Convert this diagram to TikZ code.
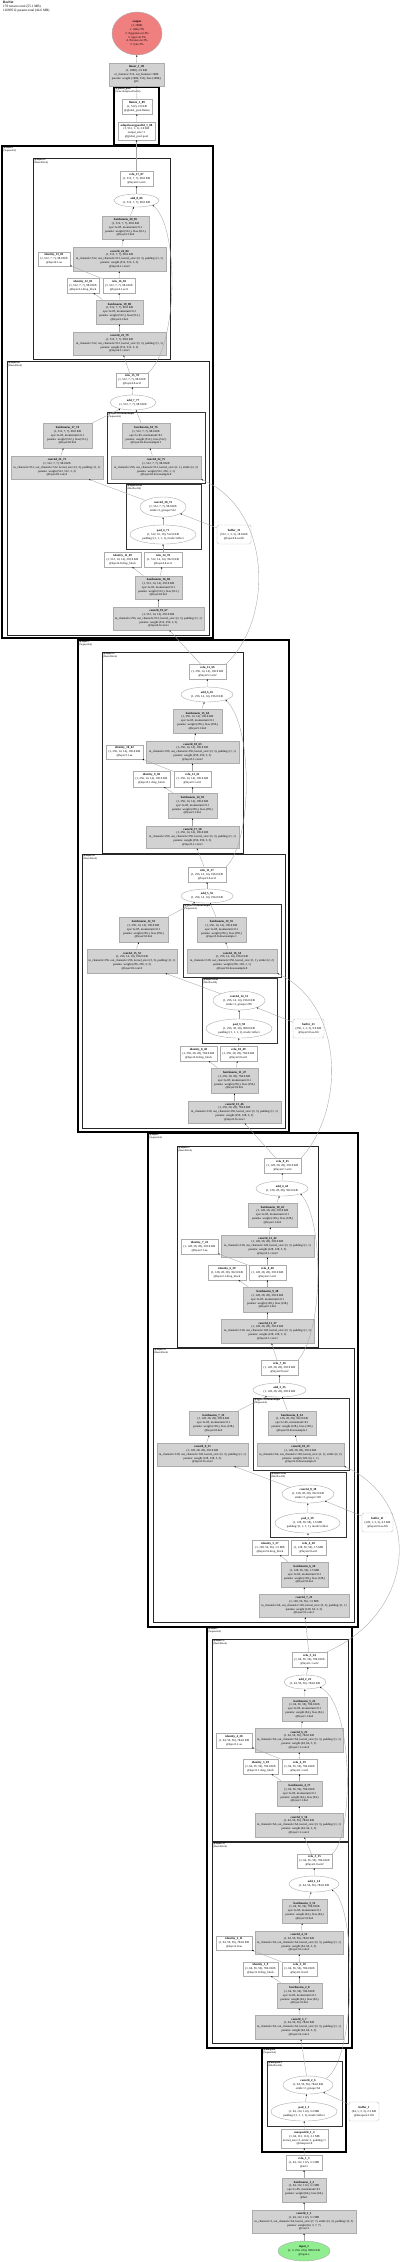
\documentclass[tikz,border=0pt]{standalone}
\usepackage{fontspec}
\setmainfont{Liberation Serif}
\usetikzlibrary{shapes.geometric,arrows.meta}
\definecolor{outred}{HTML}{F08080}
\definecolor{ingreen}{HTML}{90EE90}
\tikzset{
  every node/.style={font=\fontsize{3}{3.8}\selectfont, inner sep=0pt},
  gbox/.style={rectangle, draw=gray!65, line width=0.8pt, fill=gray!35},
  wbox/.style={rectangle, draw=gray!65, line width=0.4pt, fill=white},
  ell/.style={ellipse, draw=gray!65, line width=0.4pt, fill=white},
  buf/.style={rectangle, draw=gray!65, line width=0.4pt, rounded corners=2pt, dash pattern=on 1pt off 0.6pt, fill=white},
  outn/.style={ellipse, draw=gray!65, line width=0.4pt, fill=outred},
  inn/.style={ellipse, draw=gray!65, line width=0.4pt, fill=ingreen},
  ed/.style={draw=gray!70, line width=0.35pt, -{Stealth[length=1.6pt,width=1.3pt,color=black]}},
  clA/.style={draw=black, line width=1.1pt},
  clB/.style={draw=black!85, line width=0.9pt},
  clC/.style={draw=black!80, line width=0.6pt},
  cllab/.style={anchor=north west, align=left, font=\fontsize{2.6}{3}\selectfont},
}
\newcommand\NN[7]{\node[#1, minimum width={(#4-#3)*1pt}, minimum height={(#6-#5)*1pt}] (#2) at ({(#3+#4)/2},{-(#5+#6)/2}) {\makebox[0pt]{\begin{tabular}{@{}c@{}}#7\end{tabular}}};}
\newcommand\CL[8]{\draw[#1] (#3,-#5) rectangle (#4,-#6); \node[cllab] (#2) at ({#3+1.2},{-#5-0.8}) {\textbf{#7}\\#8};}
\begin{document}
\begin{tikzpicture}[x=1pt,y=1pt]
\useasboundingbox (0,0) rectangle (400,-2262);
\fill[white] (0,0) rectangle (400,-2262);
\node[anchor=north west, align=left, font=\fontsize{3.4}{4}\selectfont] (title) at (3,-1) {\textbf{ResNet}\\170 tensors total (55.1 MB)\\11689512 params total (44.6 MB)};

% clusters
\CL{clA}{gpL}{114}{159}{87}{145}{@global\_pool}{(SelectAdaptivePool2d)}
\CL{clA}{l4L}{2}{213}{146}{638}{@layer4}{(Sequential)}
\CL{clB}{l41L}{33}{170}{158}{359}{@layer4.1}{(BasicBlock)}
\CL{clB}{l40L}{7}{209}{361}{635}{@layer4.0}{(BasicBlock)}
\CL{clC}{ds4L}{107}{205}{412}{483}{@layer4.0.downsample}{(Sequential)}
\CL{clC}{aa4L}{126}{201}{484}{549}{@layer4.0.aa}{(BlurPool2d)}
\CL{clA}{l3L}{78}{289}{640}{1132}{@layer3}{(Sequential)}
\CL{clB}{l31L}{102}{243}{652}{853}{@layer3.1}{(BasicBlock)}
\CL{clB}{l30L}{82}{285}{854}{1128}{@layer3.0}{(BasicBlock)}
\CL{clC}{ds3L}{183}{281}{904}{977}{@layer3.0.downsample}{(Sequential)}
\CL{clC}{aa3L}{202}{277}{978}{1043}{@layer3.0.aa}{(BlurPool2d)}
\CL{clA}{l2L}{148}{358}{1133}{1627}{@layer2}{(Sequential)}
\CL{clB}{l21L}{177}{318}{1146}{1347}{@layer2.1}{(BasicBlock)}
\CL{clB}{l20L}{153}{354}{1348}{1622}{@layer2.0}{(BasicBlock)}
\CL{clC}{ds2L}{253}{349}{1398}{1470}{@layer2.0.downsample}{(Sequential)}
\CL{clC}{aa2L}{270}{346}{1472}{1537}{@layer2.0.aa}{(BlurPool2d)}
\CL{clA}{l1L}{207}{352}{1627}{2048}{@layer1}{(Sequential)}
\CL{clB}{l11L}{212}{348}{1639}{1841}{@layer1.1}{(BasicBlock)}
\CL{clB}{l10L}{212}{348}{1842}{2043}{@layer1.0}{(BasicBlock)}
\CL{clA}{mpL}{262}{346}{2048}{2152}{@maxpool}{(Sequential)}
\CL{clC}{mp1L}{267}{342}{2061}{2126}{@maxpool.1}{(BlurPool2d)}

% top
\NN{outn}{out}{112}{162}{12}{55}{\textbf{output}\\(1, 1000)\\1. tabby 9\%\\2. Egyptian cat 4\%\\3. tiger cat 3\%\\4. Persian cat 3\%\\5. lynx 3\%}
\NN{gbox}{lin}{109}{164}{63}{86}{\textbf{linear\_1\_90}\\(1, 1000), 3.9 KB\\in\_features=512, out\_features=1000\\params: weight (1000, 512), bias (1000,)\\@fc}
\NN{wbox}{flat}{122}{152}{99}{114}{\textbf{flatten\_1\_89}\\(1, 512), 2.0 KB\\@global\_pool.flatten}
\NN{wbox}{aap}{118}{155}{122}{140}{\textbf{adaptiveavgpool2d\_1\_88}\\(1, 512, 1, 1), 2.0 KB\\output\_size=1\\@global\_pool.pool}

% layer4.1
\NN{wbox}{relu17}{120}{153}{171}{186}{\textbf{relu\_17\_87}\\(1, 512, 7, 7), 98.0 KB\\@layer4.1.act2}
\NN{ell}{add8}{114}{159}{194}{207}{\textbf{add\_8\_86}\\(1, 512, 7, 7), 98.0 KB}
\NN{gbox}{bn20}{102}{149}{216}{239}{\textbf{batchnorm\_20\_85}\\(1, 512, 7, 7), 98.0 KB\\eps=1e-05, momentum=0.1\\params: weight (512,), bias (512,)\\@layer4.1.bn2}
\NN{gbox}{cv24}{73}{166}{247}{271}{\textbf{conv2d\_24\_84}\\(1, 512, 7, 7), 98.0 KB\\in\_channels=512, out\_channels=512, kernel\_size=(3, 3), padding=(1, 1)\\params: weight (512, 512, 3, 3)\\@layer4.1.conv2}
\NN{wbox}{id13}{38}{70}{252}{266}{\textbf{identity\_13\_83}\\(1, 512, 7, 7), 98.0 KB\\@layer4.1.aa}
\NN{wbox}{id12}{67}{99}{278}{293}{\textbf{identity\_12\_81}\\(1, 512, 7, 7), 98.0 KB\\@layer4.1.drop\_block}
\NN{wbox}{relu16}{103}{135}{278}{293}{\textbf{relu\_16\_82}\\(1, 512, 7, 7), 98.0 KB\\@layer4.1.act1}
\NN{gbox}{bn19}{96}{143}{300}{324}{\textbf{batchnorm\_19\_80}\\(1, 512, 7, 7), 98.0 KB\\eps=1e-05, momentum=0.1\\params: weight (512,), bias (512,)\\@layer4.1.bn1}
\NN{gbox}{cv23}{73}{166}{332}{355}{\textbf{conv2d\_23\_79}\\(1, 512, 7, 7), 98.0 KB\\in\_channels=512, out\_channels=512, kernel\_size=(3, 3), padding=(1, 1)\\params: weight (512, 512, 3, 3)\\@layer4.1.conv1}
% layer4.0
\NN{wbox}{relu15}{116}{148}{373}{387}{\textbf{relu\_15\_78}\\(1, 512, 7, 7), 98.0 KB\\@layer4.0.act2}
\NN{ell}{add7}{110}{156}{395}{410}{\textbf{add\_7\_77}\\(1, 512, 7, 7), 98.0 KB}
\NN{gbox}{bn18}{122}{170}{423}{448}{\textbf{batchnorm\_18\_76}\\(1, 512, 7, 7), 98.0 KB\\eps=1e-05, momentum=0.1\\params: weight (512,), bias (512,)\\@layer4.0.downsample.1}
\NN{gbox}{cv22}{111}{201}{456}{479}{\textbf{conv2d\_22\_75}\\(1, 512, 7, 7), 98.0 KB\\in\_channels=256, out\_channels=512, kernel\_size=(1, 1), stride=(2, 2)\\params: weight (512, 256, 1, 1)\\@layer4.0.downsample.0}
\NN{gbox}{bn17}{43}{92}{423}{448}{\textbf{batchnorm\_17\_74}\\(1, 512, 7, 7), 98.0 KB\\eps=1e-05, momentum=0.1\\params: weight (512,), bias (512,)\\@layer4.0.bn2}
\NN{gbox}{cv21}{11}{103}{456}{479}{\textbf{conv2d\_21\_73}\\(1, 512, 7, 7), 98.0 KB\\in\_channels=512, out\_channels=512, kernel\_size=(3, 3), padding=(1, 1)\\params: weight (512, 512, 3, 3)\\@layer4.0.conv2}
\NN{ell}{cv20}{140}{186}{497}{517}{\textbf{conv2d\_20\_72}\\(1, 512, 7, 7), 98.0 KB\\stride=2, groups=512}
\NN{ell}{pad4}{130}{196}{525}{544}{\textbf{pad\_4\_71}\\(1, 512, 16, 16), 512.0 KB\\padding=(1, 1, 1, 1), mode=reflect}
\NN{buf}{buf31}{217}{251}{525}{544}{\textbf{buffer\_31}\\(512, 1, 3, 3), 18.0 KB\\@layer4.0.aa.filt}
\NN{wbox}{id11}{104}{141}{552}{567}{\textbf{identity\_11\_69}\\(1, 512, 14, 14), 392.0 KB\\@layer4.0.drop\_block}
\NN{wbox}{relu14}{144}{182}{552}{567}{\textbf{relu\_14\_70}\\(1, 512, 14, 14), 392.0 KB\\@layer4.0.act1}
\NN{gbox}{bn16}{135}{182}{576}{599}{\textbf{batchnorm\_16\_68}\\(1, 512, 14, 14), 392.0 KB\\eps=1e-05, momentum=0.1\\params: weight (512,), bias (512,)\\@layer4.0.bn1}
\NN{gbox}{cv19}{113}{204}{607}{630}{\textbf{conv2d\_19\_67}\\(1, 512, 14, 14), 392.0 KB\\in\_channels=256, out\_channels=512, kernel\_size=(3, 3), padding=(1, 1)\\params: weight (512, 256, 3, 3)\\@layer4.0.conv1}

% layer3.1
\NN{wbox}{relu13}{189}{226}{664}{679}{\textbf{relu\_13\_66}\\(1, 256, 14, 14), 196.0 KB\\@layer3.1.act2}
\NN{ell}{add6}{181}{233}{687}{702}{\textbf{add\_6\_65}\\(1, 256, 14, 14), 196.0 KB}
\NN{gbox}{bn15}{173}{222}{709}{733}{\textbf{batchnorm\_15\_64}\\(1, 256, 14, 14), 196.0 KB\\eps=1e-05, momentum=0.1\\params: weight (256,), bias (256,)\\@layer3.1.bn2}
\NN{gbox}{cv18}{146}{239}{741}{763}{\textbf{conv2d\_18\_63}\\(1, 256, 14, 14), 196.0 KB\\in\_channels=256, out\_channels=256, kernel\_size=(3, 3), padding=(1, 1)\\params: weight (256, 256, 3, 3)\\@layer3.1.conv2}
\NN{wbox}{id10}{106}{143}{745}{759}{\textbf{identity\_10\_62}\\(1, 256, 14, 14), 196.0 KB\\@layer3.1.aa}
\NN{wbox}{id9}{133}{170}{771}{787}{\textbf{identity\_9\_60}\\(1, 256, 14, 14), 196.0 KB\\@layer3.1.drop\_block}
\NN{wbox}{relu12}{174}{211}{771}{787}{\textbf{relu\_12\_61}\\(1, 256, 14, 14), 196.0 KB\\@layer3.1.act1}
\NN{gbox}{bn14}{168}{217}{793}{818}{\textbf{batchnorm\_14\_59}\\(1, 256, 14, 14), 196.0 KB\\eps=1e-05, momentum=0.1\\params: weight (256,), bias (256,)\\@layer3.1.bn1}
\NN{gbox}{cv17}{146}{239}{826}{848}{\textbf{conv2d\_17\_58}\\(1, 256, 14, 14), 196.0 KB\\in\_channels=256, out\_channels=256, kernel\_size=(3, 3), padding=(1, 1)\\params: weight (256, 256, 3, 3)\\@layer3.1.conv1}
% layer3.0
\NN{wbox}{relu11}{188}{226}{867}{882}{\textbf{relu\_11\_57}\\(1, 256, 14, 14), 196.0 KB\\@layer3.0.act2}
\NN{ell}{add5}{181}{233}{889}{903}{\textbf{add\_5\_56}\\(1, 256, 14, 14), 196.0 KB}
\NN{gbox}{bn13}{197}{246}{917}{942}{\textbf{batchnorm\_13\_55}\\(1, 256, 14, 14), 196.0 KB\\eps=1e-05, momentum=0.1\\params: weight (256,), bias (256,)\\@layer3.0.downsample.1}
\NN{gbox}{cv16}{187}{277}{949}{973}{\textbf{conv2d\_16\_54}\\(1, 256, 14, 14), 196.0 KB\\in\_channels=128, out\_channels=256, kernel\_size=(1, 1), stride=(2, 2)\\params: weight (256, 128, 1, 1)\\@layer3.0.downsample.0}
\NN{gbox}{bn12}{119}{168}{917}{942}{\textbf{batchnorm\_12\_53}\\(1, 256, 14, 14), 196.0 KB\\eps=1e-05, momentum=0.1\\params: weight (256,), bias (256,)\\@layer3.0.bn2}
\NN{gbox}{cv15}{87}{177}{949}{973}{\textbf{conv2d\_15\_52}\\(1, 256, 14, 14), 196.0 KB\\in\_channels=256, out\_channels=256, kernel\_size=(3, 3), padding=(1, 1)\\params: weight (256, 256, 3, 3)\\@layer3.0.conv2}
\NN{ell}{cv14}{213}{265}{991}{1010}{\textbf{conv2d\_14\_51}\\(1, 256, 14, 14), 196.0 KB\\stride=2, groups=256}
\NN{ell}{pad3}{206}{272}{1019}{1038}{\textbf{pad\_3\_50}\\(1, 256, 30, 30), 900.0 KB\\padding=(1, 1, 1, 1), mode=reflect}
\NN{buf}{buf21}{293}{324}{1019}{1038}{\textbf{buffer\_21}\\(256, 1, 3, 3), 9.0 KB\\@layer3.0.aa.filt}
\NN{wbox}{id8}{180}{217}{1046}{1061}{\textbf{identity\_8\_48}\\(1, 256, 28, 28), 784.0 KB\\@layer3.0.drop\_block}
\NN{wbox}{relu10}{220}{257}{1046}{1061}{\textbf{relu\_10\_49}\\(1, 256, 28, 28), 784.0 KB\\@layer3.0.act1}
\NN{gbox}{bn11}{211}{258}{1068}{1093}{\textbf{batchnorm\_11\_47}\\(1, 256, 28, 28), 784.0 KB\\eps=1e-05, momentum=0.1\\params: weight (256,), bias (256,)\\@layer3.0.bn1}
\NN{gbox}{cv13}{188}{281}{1101}{1123}{\textbf{conv2d\_13\_46}\\(1, 256, 28, 28), 784.0 KB\\in\_channels=128, out\_channels=256, kernel\_size=(3, 3), padding=(1, 1)\\params: weight (256, 128, 3, 3)\\@layer3.0.conv1}

% layer2.1
\NN{wbox}{relu9}{264}{301}{1158}{1173}{\textbf{relu\_9\_45}\\(1, 128, 28, 28), 392.0 KB\\@layer2.1.act2}
\NN{ell}{add4}{256}{308}{1181}{1196}{\textbf{add\_4\_44}\\(1, 128, 28, 28), 392.0 KB}
\NN{gbox}{bn10}{248}{297}{1203}{1227}{\textbf{batchnorm\_10\_43}\\(1, 128, 28, 28), 392.0 KB\\eps=1e-05, momentum=0.1\\params: weight (128,), bias (128,)\\@layer2.1.bn2}
\NN{gbox}{cv12}{221}{314}{1235}{1257}{\textbf{conv2d\_12\_42}\\(1, 128, 28, 28), 392.0 KB\\in\_channels=128, out\_channels=128, kernel\_size=(3, 3), padding=(1, 1)\\params: weight (128, 128, 3, 3)\\@layer2.1.conv2}
\NN{wbox}{id7}{181}{218}{1239}{1254}{\textbf{identity\_7\_41}\\(1, 128, 28, 28), 392.0 KB\\@layer2.1.aa}
\NN{wbox}{id6}{208}{246}{1265}{1280}{\textbf{identity\_6\_39}\\(1, 128, 28, 28), 392.0 KB\\@layer2.1.drop\_block}
\NN{wbox}{relu8}{249}{286}{1265}{1280}{\textbf{relu\_8\_40}\\(1, 128, 28, 28), 392.0 KB\\@layer2.1.act1}
\NN{gbox}{bn9}{243}{292}{1287}{1312}{\textbf{batchnorm\_9\_38}\\(1, 128, 28, 28), 392.0 KB\\eps=1e-05, momentum=0.1\\params: weight (128,), bias (128,)\\@layer2.1.bn1}
\NN{gbox}{cv11}{221}{314}{1319}{1343}{\textbf{conv2d\_11\_37}\\(1, 128, 28, 28), 392.0 KB\\in\_channels=128, out\_channels=128, kernel\_size=(3, 3), padding=(1, 1)\\params: weight (128, 128, 3, 3)\\@layer2.1.conv1}
% layer2.0
\NN{wbox}{relu7}{261}{298}{1360}{1375}{\textbf{relu\_7\_36}\\(1, 128, 28, 28), 392.0 KB\\@layer2.0.act2}
\NN{ell}{add3}{253}{306}{1383}{1397}{\textbf{add\_3\_35}\\(1, 128, 28, 28), 392.0 KB}
\NN{gbox}{bn8}{268}{316}{1411}{1435}{\textbf{batchnorm\_8\_34}\\(1, 128, 28, 28), 392.0 KB\\eps=1e-05, momentum=0.1\\params: weight (128,), bias (128,)\\@layer2.0.downsample.1}
\NN{gbox}{cv10}{257}{344}{1443}{1466}{\textbf{conv2d\_10\_33}\\(1, 128, 28, 28), 392.0 KB\\in\_channels=64, out\_channels=128, kernel\_size=(1, 1), stride=(2, 2)\\params: weight (128, 64, 1, 1)\\@layer2.0.downsample.0}
\NN{gbox}{bn7}{189}{238}{1411}{1435}{\textbf{batchnorm\_7\_32}\\(1, 128, 28, 28), 392.0 KB\\eps=1e-05, momentum=0.1\\params: weight (128,), bias (128,)\\@layer2.0.bn2}
\NN{gbox}{cv9}{157}{248}{1443}{1466}{\textbf{conv2d\_9\_31}\\(1, 128, 28, 28), 392.0 KB\\in\_channels=128, out\_channels=128, kernel\_size=(3, 3), padding=(1, 1)\\params: weight (128, 128, 3, 3)\\@layer2.0.conv2}
\NN{ell}{cv8}{282}{334}{1485}{1503}{\textbf{conv2d\_8\_30}\\(1, 128, 28, 28), 392.0 KB\\stride=2, groups=128}
\NN{ell}{pad2}{275}{340}{1513}{1533}{\textbf{pad\_2\_29}\\(1, 128, 58, 58), 1.6 MB\\padding=(1, 1, 1, 1), mode=reflect}
\NN{buf}{buf11}{362}{393}{1513}{1532}{\textbf{buffer\_11}\\(128, 1, 3, 3), 4.5 KB\\@layer2.0.aa.filt}
\NN{wbox}{id5}{252}{288}{1540}{1555}{\textbf{identity\_5\_27}\\(1, 128, 56, 56), 1.5 MB\\@layer2.0.drop\_block}
\NN{wbox}{relu6}{291}{326}{1540}{1555}{\textbf{relu\_6\_28}\\(1, 128, 56, 56), 1.5 MB\\@layer2.0.act1}
\NN{gbox}{bn6}{281}{328}{1562}{1587}{\textbf{batchnorm\_6\_26}\\(1, 128, 56, 56), 1.5 MB\\eps=1e-05, momentum=0.1\\params: weight (128,), bias (128,)\\@layer2.0.bn1}
\NN{gbox}{cv7}{259}{349}{1594}{1617}{\textbf{conv2d\_7\_25}\\(1, 128, 56, 56), 1.5 MB\\in\_channels=64, out\_channels=128, kernel\_size=(3, 3), padding=(1, 1)\\params: weight (128, 64, 3, 3)\\@layer2.0.conv1}

% layer1.1
\NN{wbox}{relu5}{292}{327}{1652}{1667}{\textbf{relu\_5\_24}\\(1, 64, 56, 56), 784.0 KB\\@layer1.1.act2}
\NN{ell}{add2}{284}{326}{1675}{1689}{\textbf{add\_2\_23}\\(1, 64, 56, 56), 784.0 KB}
\NN{gbox}{bn5}{282}{327}{1697}{1721}{\textbf{batchnorm\_5\_22}\\(1, 64, 56, 56), 784.0 KB\\eps=1e-05, momentum=0.1\\params: weight (64,), bias (64,)\\@layer1.1.bn2}
\NN{gbox}{cv6}{255}{343}{1728}{1752}{\textbf{conv2d\_6\_21}\\(1, 64, 56, 56), 784.0 KB\\in\_channels=64, out\_channels=64, kernel\_size=(3, 3), padding=(1, 1)\\params: weight (64, 64, 3, 3)\\@layer1.1.conv2}
\NN{wbox}{id4}{216}{252}{1733}{1748}{\textbf{identity\_4\_20}\\(1, 64, 56, 56), 784.0 KB\\@layer1.1.aa}
\NN{wbox}{id3}{243}{278}{1759}{1774}{\textbf{identity\_3\_18}\\(1, 64, 56, 56), 784.0 KB\\@layer1.1.drop\_block}
\NN{wbox}{relu4}{282}{317}{1759}{1774}{\textbf{relu\_4\_19}\\(1, 64, 56, 56), 784.0 KB\\@layer1.1.act1}
\NN{gbox}{bn4}{277}{322}{1781}{1806}{\textbf{batchnorm\_4\_17}\\(1, 64, 56, 56), 784.0 KB\\eps=1e-05, momentum=0.1\\params: weight (64,), bias (64,)\\@layer1.1.bn1}
\NN{gbox}{cv5}{255}{343}{1813}{1837}{\textbf{conv2d\_5\_16}\\(1, 64, 56, 56), 784.0 KB\\in\_channels=64, out\_channels=64, kernel\_size=(3, 3), padding=(1, 1)\\params: weight (64, 64, 3, 3)\\@layer1.1.conv1}
% layer1.0
\NN{wbox}{relu3}{297}{332}{1854}{1868}{\textbf{relu\_3\_15}\\(1, 64, 56, 56), 784.0 KB\\@layer1.0.act2}
\NN{ell}{add1}{289}{339}{1876}{1892}{\textbf{add\_1\_14}\\(1, 64, 56, 56), 784.0 KB}
\NN{gbox}{bn3}{282}{327}{1899}{1923}{\textbf{batchnorm\_3\_13}\\(1, 64, 56, 56), 784.0 KB\\eps=1e-05, momentum=0.1\\params: weight (64,), bias (64,)\\@layer1.0.bn2}
\NN{gbox}{cv4}{255}{343}{1931}{1954}{\textbf{conv2d\_4\_12}\\(1, 64, 56, 56), 784.0 KB\\in\_channels=64, out\_channels=64, kernel\_size=(3, 3), padding=(1, 1)\\params: weight (64, 64, 3, 3)\\@layer1.0.conv2}
\NN{wbox}{id2}{216}{252}{1936}{1950}{\textbf{identity\_2\_11}\\(1, 64, 56, 56), 784.0 KB\\@layer1.0.aa}
\NN{wbox}{id1}{243}{278}{1962}{1976}{\textbf{identity\_1\_9}\\(1, 64, 56, 56), 784.0 KB\\@layer1.0.drop\_block}
\NN{wbox}{relu2}{282}{317}{1962}{1976}{\textbf{relu\_2\_10}\\(1, 64, 56, 56), 784.0 KB\\@layer1.0.act1}
\NN{gbox}{bn2}{277}{322}{1983}{2008}{\textbf{batchnorm\_2\_8}\\(1, 64, 56, 56), 784.0 KB\\eps=1e-05, momentum=0.1\\params: weight (64,), bias (64,)\\@layer1.0.bn1}
\NN{gbox}{cv3}{255}{343}{2015}{2039}{\textbf{conv2d\_3\_7}\\(1, 64, 56, 56), 784.0 KB\\in\_channels=64, out\_channels=64, kernel\_size=(3, 3), padding=(1, 1)\\params: weight (64, 64, 3, 3)\\@layer1.0.conv1}

% stem
\NN{ell}{cv2}{283}{333}{2076}{2094}{\textbf{conv2d\_2\_6}\\(1, 64, 56, 56), 784.0 KB\\stride=2, groups=64}
\NN{ell}{pad1}{271}{337}{2102}{2121}{\textbf{pad\_1\_5}\\(1, 64, 114, 114), 3.2 MB\\padding=(1, 1, 1, 1), mode=reflect}
\NN{buf}{buf1}{349}{379}{2102}{2121}{\textbf{buffer\_1}\\(64, 1, 3, 3), 2.3 KB\\@maxpool.1.filt}
\NN{wbox}{mp}{281}{328}{2129}{2148}{\textbf{maxpool2d\_1\_4}\\(1, 64, 112, 112), 3.1 MB\\kernel\_size=3, stride=1, padding=1\\@maxpool.0}
\NN{wbox}{relu1}{286}{322}{2155}{2170}{\textbf{relu\_1\_3}\\(1, 64, 112, 112), 3.1 MB\\@act1}
\NN{gbox}{bn1}{282}{326}{2178}{2202}{\textbf{batchnorm\_1\_2}\\(1, 64, 112, 112), 3.1 MB\\eps=1e-05, momentum=0.1\\params: weight (64,), bias (64,)\\@bn1}
\NN{gbox}{cv1}{252}{356}{2210}{2233}{\textbf{conv2d\_1\_1}\\(1, 64, 112, 112), 3.1 MB\\in\_channels=3, out\_channels=64, kernel\_size=(7, 7), stride=(2, 2), padding=(3, 3)\\params: weight (64, 3, 7, 7)\\@conv1}
\NN{inn}{inp}{278}{330}{2241}{2261}{\textbf{input\_1}\\(1, 3, 224, 224), 588.0 KB\\@input.x}

% edges: stem
\draw[ed] (inp) -- (cv1);
\draw[ed] (cv1) -- (bn1);
\draw[ed] (bn1) -- (relu1);
\draw[ed] (relu1) -- (mp);
\draw[ed] (mp) -- (pad1);
\draw[ed] (pad1) -- (cv2);
\draw[ed] (buf1) -- (cv2);
\draw[ed] (cv2) -- (cv3);
\draw[ed] (cv2.north east) .. controls (357,-2060) and (357,-1905) .. (add1.south east);
% layer1.0
\draw[ed] (cv3) -- (bn2);
\draw[ed] (bn2) -- (id1);
\draw[ed] (bn2) -- (relu2);
\draw[ed] (relu2) -- (id2);
\draw[ed] (relu2) -- (cv4);
\draw[ed] (cv4) -- (bn3);
\draw[ed] (bn3) -- (add1);
\draw[ed] (add1) -- (relu3);
\draw[ed] (relu3) -- (cv5);
\draw[ed] (relu3.north east) .. controls (354,-1835) and (354,-1705) .. (add2.south east);
% layer1.1
\draw[ed] (cv5) -- (bn4);
\draw[ed] (bn4) -- (id3);
\draw[ed] (bn4) -- (relu4);
\draw[ed] (relu4) -- (id4);
\draw[ed] (relu4) -- (cv6);
\draw[ed] (cv6) -- (bn5);
\draw[ed] (bn5) -- (add2);
\draw[ed] (add2) -- (relu5);
\draw[ed] (relu5) -- (cv7);
\draw[ed] (relu5.north east) .. controls (420,-1610) and (420,-1500) .. (cv10.south east);
% layer2.0
\draw[ed] (cv7) -- (bn6);
\draw[ed] (bn6) -- (id5);
\draw[ed] (bn6) -- (relu6);
\draw[ed] (relu6) -- (pad2);
\draw[ed] (pad2) -- (cv8);
\draw[ed] (buf11) -- (cv8);
\draw[ed] (cv8) -- (cv9);
\draw[ed] (cv9) -- (bn7);
\draw[ed] (bn7) -- (add3);
\draw[ed] (cv10) -- (bn8);
\draw[ed] (bn8) -- (add3);
\draw[ed] (add3) -- (relu7);
\draw[ed] (relu7) -- (cv11);
\draw[ed] (relu7.north east) .. controls (324,-1330) and (324,-1220) .. (add4.south east);
% layer2.1
\draw[ed] (cv11) -- (bn9);
\draw[ed] (bn9) -- (id6);
\draw[ed] (bn9) -- (relu8);
\draw[ed] (relu8) -- (id7);
\draw[ed] (relu8) -- (cv12);
\draw[ed] (cv12) -- (bn10);
\draw[ed] (bn10) -- (add4);
\draw[ed] (add4) -- (relu9);
\draw[ed] (relu9) -- (cv13);
\draw[ed] (relu9.north east) .. controls (345,-1110) and (345,-1005) .. (cv16.south east);
% layer3.0
\draw[ed] (cv13) -- (bn11);
\draw[ed] (bn11) -- (id8);
\draw[ed] (bn11) -- (relu10);
\draw[ed] (relu10) -- (pad3);
\draw[ed] (pad3) -- (cv14);
\draw[ed] (buf21) -- (cv14);
\draw[ed] (cv14) -- (cv15);
\draw[ed] (cv15) -- (bn12);
\draw[ed] (bn12) -- (add5);
\draw[ed] (cv16) -- (bn13);
\draw[ed] (bn13) -- (add5);
\draw[ed] (add5) -- (relu11);
\draw[ed] (relu11) -- (cv17);
\draw[ed] (relu11.north east) .. controls (253,-840) and (253,-725) .. (add6.south east);
% layer3.1
\draw[ed] (cv17) -- (bn14);
\draw[ed] (bn14) -- (id9);
\draw[ed] (bn14) -- (relu12);
\draw[ed] (relu12) -- (id10);
\draw[ed] (relu12) -- (cv18);
\draw[ed] (cv18) -- (bn15);
\draw[ed] (bn15) -- (add6);
\draw[ed] (add6) -- (relu13);
\draw[ed] (relu13) -- (cv19);
\draw[ed] (relu13.north east) .. controls (273,-620) and (273,-510) .. (cv22.south east);
% layer4.0
\draw[ed] (cv19) -- (bn16);
\draw[ed] (bn16) -- (id11);
\draw[ed] (bn16) -- (relu14);
\draw[ed] (relu14) -- (pad4);
\draw[ed] (pad4) -- (cv20);
\draw[ed] (buf31) -- (cv20);
\draw[ed] (cv20) -- (cv21);
\draw[ed] (cv21) -- (bn17);
\draw[ed] (bn17) -- (add7);
\draw[ed] (cv22) -- (bn18);
\draw[ed] (bn18) -- (add7);
\draw[ed] (add7) -- (relu15);
\draw[ed] (relu15) -- (cv23);
\draw[ed] (relu15.north east) .. controls (179,-345) and (179,-225) .. (add8.south east);
% layer4.1
\draw[ed] (cv23) -- (bn19);
\draw[ed] (bn19) -- (id12);
\draw[ed] (bn19) -- (relu16);
\draw[ed] (relu16) -- (id13);
\draw[ed] (relu16) -- (cv24);
\draw[ed] (cv24) -- (bn20);
\draw[ed] (bn20) -- (add8);
\draw[ed] (add8) -- (relu17);
% head
\draw[ed] (relu17) -- (aap);
\draw[ed] (aap) -- (flat);
\draw[ed] (flat) -- (lin);
\draw[ed] (lin) -- (out);
\end{tikzpicture}
\end{document}
